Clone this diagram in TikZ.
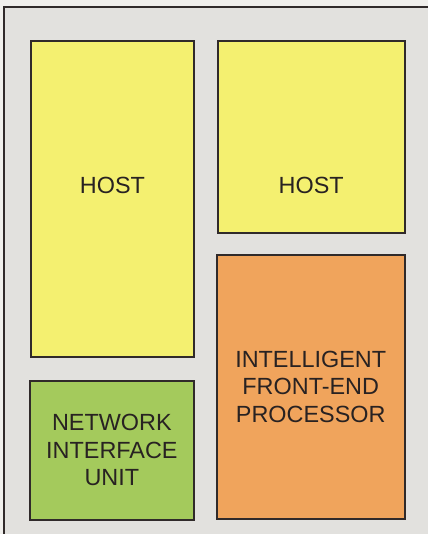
\documentclass[tikz,border=0pt]{standalone}
\usepackage{fontspec}
\setmainfont{Liberation Sans}
\usetikzlibrary{positioning}
\definecolor{paper}{RGB}{240,239,236}
\definecolor{panel}{RGB}{226,225,222}
\definecolor{boxline}{RGB}{48,42,42}
\definecolor{inkdark}{RGB}{40,34,34}
\definecolor{hostyellow}{RGB}{244,240,112}
\definecolor{niugreen}{RGB}{164,202,92}
\definecolor{fepOrange}{RGB}{240,164,92}

\begin{document}
\begin{tikzpicture}[x=1bp,y=-1bp,
  box/.style={draw=boxline,line width=1.8bp,inner sep=0pt,anchor=north west,
              align=center,text=inkdark,font=\fontsize{23.5}{27.5}\selectfont},
  txt/.style={align=center,text=inkdark,font=\fontsize{23.5}{27.5}\selectfont}]
\useasboundingbox (0,0) rectangle (428,534);
\fill[paper] (0,0) rectangle (428,534);
\fill[panel] (4,7) rectangle (428,534);
\draw[boxline,line width=1.5bp] (4,534) -- (4,7) -- (428,7);
\node[box,fill=hostyellow,minimum width=163bp,minimum height=316bp] (hostA) at (30,40) {};
\node[box,fill=hostyellow,minimum width=187bp,minimum height=192bp] (hostB) at ([xshift=22bp]hostA.north east) {};
\node[box,fill=fepOrange,minimum width=188bp,minimum height=264bp] (fep) at ([xshift=-1bp,yshift=-20bp]hostB.south west) {INTELLIGENT\\FRONT-END\\PROCESSOR};
\node[box,fill=niugreen,minimum width=164bp,minimum height=139bp] (niu) at ([xshift=-1bp,yshift=-22bp]hostA.south west) {NETWORK\\INTERFACE\\UNIT};
\node[txt] (hostAlbl) at ([yshift=-145bp]hostA.north) {HOST};
\node[txt] (hostBlbl) at ([yshift=-145bp]hostB.north) {HOST};
\end{tikzpicture}
\end{document}
